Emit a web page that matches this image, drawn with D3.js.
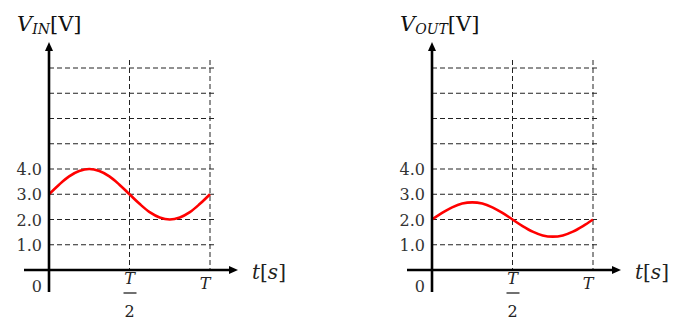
<!DOCTYPE html>
<html>
<head>
<meta charset="utf-8">
<script src="https://cdn.jsdelivr.net/npm/d3@7"></script>
<style>
  html, body { margin: 0; padding: 0; background: #fff; }
  svg { display: block; }
</style>
</head>
<body>
<svg id="chart" width="681" height="323"></svg>
<script>
// ---- data ----
const tPoints = [0, 0.0625, 0.125, 0.1875, 0.25, 0.3125, 0.375, 0.4375, 0.5,
                 0.5625, 0.625, 0.6875, 0.75, 0.8125, 0.875, 0.9375, 1];
const vinValues = [3.00, 3.38, 3.71, 3.92, 4.00, 3.92, 3.71, 3.38, 3.00,
                   2.62, 2.29, 2.08, 2.00, 2.08, 2.29, 2.62, 3.00];
const voutValues = [2.00, 2.26, 2.48, 2.63, 2.68, 2.63, 2.48, 2.26, 2.00,
                    1.74, 1.52, 1.37, 1.32, 1.37, 1.52, 1.74, 2.00];
const gridLevels = [1, 2, 3, 4, 5, 6, 7, 8];
const yTickValues = [1, 2, 3, 4];
const yTickLabels = ["1.0", "2.0", "3.0", "4.0"];
const xGridValues = [0.5, 1];
const panelTitles = [
  { main: "V", sub: "IN", unit: "[V]" },
  { main: "V", sub: "OUT", unit: "[V]" }
];

// ---- drawing ----
const svg = d3.select("#chart");
const serif = "'DejaVu Serif', 'Liberation Serif', serif";

function drawPanel(offsetX, values, title) {
  const g = svg.append("g").attr("transform", `translate(${offsetX},0)`);
  const x = d3.scaleLinear().domain([0, 1]).range([49, 210]);
  const y = d3.scaleLinear().domain([0, 8]).range([270, 68]);

  // horizontal dashed grid
  g.selectAll("line.hgrid").data(gridLevels).enter().append("line")
    .attr("class", "hgrid")
    .attr("x1", x(0)).attr("x2", x(1) + 6)
    .attr("y1", d => y(d)).attr("y2", d => y(d))
    .attr("stroke", "#222").attr("stroke-width", 1)
    .attr("stroke-dasharray", "5,3");

  // vertical dashed grid
  g.selectAll("line.vgrid").data(xGridValues).enter().append("line")
    .attr("class", "vgrid")
    .attr("x1", d => x(d)).attr("x2", d => x(d))
    .attr("y1", y(8) - 8).attr("y2", y(0))
    .attr("stroke", "#222").attr("stroke-width", 1)
    .attr("stroke-dasharray", "5,3");

  // curve
  const line = d3.line()
    .x((d, i) => x(tPoints[i]))
    .y(d => y(d))
    .curve(d3.curveCatmullRom);
  g.append("path").datum(values)
    .attr("d", line)
    .attr("fill", "none")
    .attr("stroke", "#ff0000")
    .attr("stroke-width", 2.6);

  // axes
  const axX0 = x(0), axY0 = y(0);
  g.append("line")
    .attr("x1", axX0).attr("x2", axX0)
    .attr("y1", axY0 + 22).attr("y2", 50)
    .attr("stroke", "#000").attr("stroke-width", 2.6);
  g.append("path")
    .attr("d", `M${axX0},42 L${axX0 - 4},51 L${axX0 + 4},51 Z`)
    .attr("fill", "#000");
  g.append("line")
    .attr("x1", axX0 - 25).attr("x2", 230)
    .attr("y1", axY0).attr("y2", axY0)
    .attr("stroke", "#000").attr("stroke-width", 2.6);
  g.append("path")
    .attr("d", `M238,${axY0} L229,${axY0 - 4} L229,${axY0 + 4} Z`)
    .attr("fill", "#000");

  // y tick labels
  g.selectAll("text.ytick").data(yTickValues).enter().append("text")
    .attr("class", "ytick")
    .attr("x", axX0 - 7).attr("y", d => y(d) + 6)
    .attr("text-anchor", "end")
    .attr("font-family", serif).attr("font-size", 16)
    .attr("fill", "#333")
    .text((d, i) => yTickLabels[i]);

  // origin label
  g.append("text")
    .attr("x", axX0 - 7).attr("y", axY0 + 22)
    .attr("text-anchor", "end")
    .attr("font-family", serif).attr("font-size", 16)
    .attr("fill", "#333").text("0");

  // T/2 label
  const xh = x(0.5);
  g.append("text")
    .attr("x", xh).attr("y", 284)
    .attr("text-anchor", "middle")
    .attr("font-family", serif).attr("font-size", 16)
    .attr("font-style", "italic").attr("fill", "#222").text("T");
  g.append("line")
    .attr("x1", xh - 6).attr("x2", xh + 7)
    .attr("y1", 293).attr("y2", 293)
    .attr("stroke", "#222").attr("stroke-width", 1.3);
  g.append("text")
    .attr("x", xh).attr("y", 317)
    .attr("text-anchor", "middle")
    .attr("font-family", serif).attr("font-size", 16)
    .attr("fill", "#222").text("2");

  // T label
  g.append("text")
    .attr("x", x(1) - 5).attr("y", 289)
    .attr("text-anchor", "middle")
    .attr("font-family", serif).attr("font-size", 16)
    .attr("font-style", "italic").attr("fill", "#222").text("T");

  // t[s] label
  const tl = g.append("text")
    .attr("x", 252).attr("y", 279)
    .attr("font-family", serif).attr("font-size", 20)
    .attr("fill", "#222");
  tl.append("tspan").attr("font-style", "italic").text("t");
  tl.append("tspan").text("[");
  tl.append("tspan").attr("font-style", "italic").text("s");
  tl.append("tspan").text("]");

  // title
  const tt = g.append("text")
    .attr("x", 17).attr("y", 31)
    .attr("font-family", serif).attr("font-size", 21)
    .attr("fill", "#111");
  tt.append("tspan").attr("font-style", "italic").text(title.main);
  tt.append("tspan").attr("font-style", "italic").attr("font-size", 14)
    .attr("dy", 3).text(title.sub);
  tt.append("tspan").attr("dy", -3).text(title.unit);
}

drawPanel(0, vinValues, panelTitles[0]);
drawPanel(383, voutValues, panelTitles[1]);
</script>
</body>
</html>
